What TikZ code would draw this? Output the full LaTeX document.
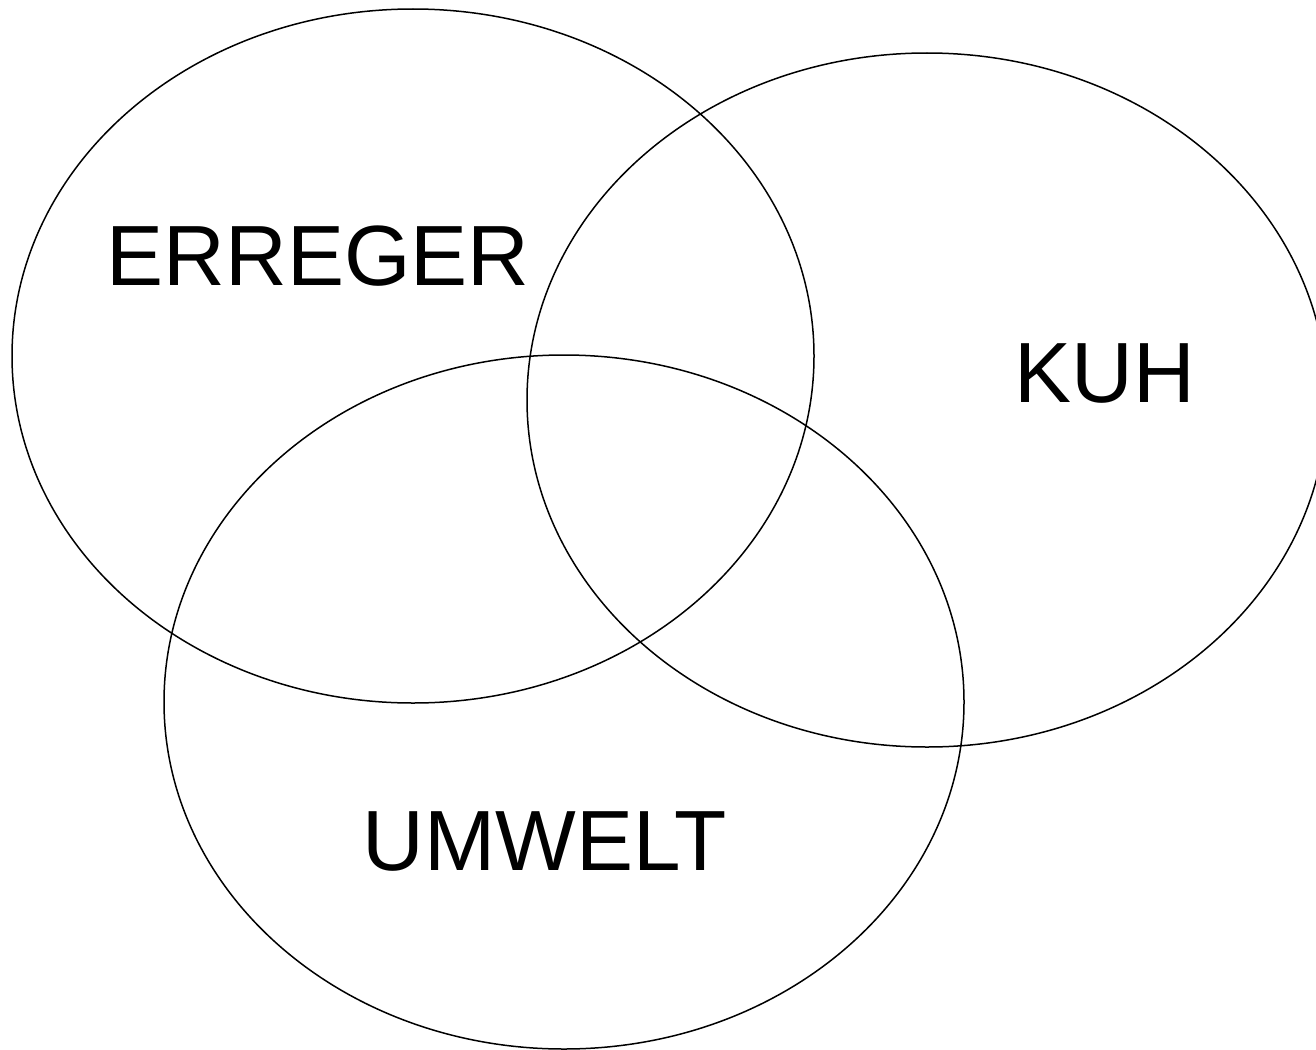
\documentclass[tikz,border=0pt]{standalone}
\usepackage{fontspec}
\setmainfont{Liberation Sans}
\begin{document}
\begin{tikzpicture}[x=1pt,y=-1pt,
  setring/.style={draw=black,line width=1.5pt},
  setlabel/.style={inner sep=0pt,font=\fontsize{85.5}{100}\selectfont}]
  \useasboundingbox (0,0) rectangle (1316,1049);
  \begin{scope}
    \clip (0,0) rectangle (1316,1049);
    % the three sets
    \draw[setring] (413,356) ellipse [x radius=401, y radius=347];
    \draw[setring] (927,400) ellipse [x radius=400, y radius=347];
    \draw[setring] (564,702) ellipse [x radius=400, y radius=347];
  \end{scope}
  % set labels
  \node[setlabel] (erreger) at (318,256) {ERREGER};
  \node[setlabel] (kuh) at (1105,374) {KUH};
  \node[setlabel] (umwelt) at (545,841) {UMWELT};
\end{tikzpicture}
\end{document}
